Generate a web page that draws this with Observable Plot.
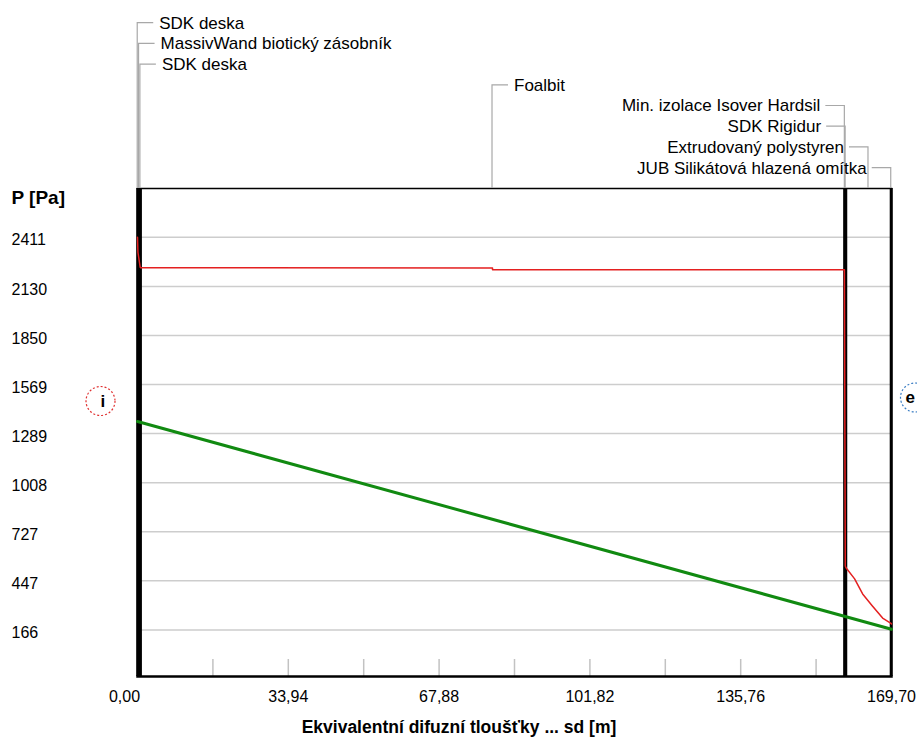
<!DOCTYPE html>
<html>
<head>
<meta charset="utf-8">
<script src="https://cdn.jsdelivr.net/npm/d3@7"></script>
<script src="https://cdn.jsdelivr.net/npm/@observablehq/plot@0.6"></script>
<style>
  html, body { margin: 0; padding: 0; background: #fff; }
  #chart svg { display: block; }
</style>
</head>
<body>
<div id="chart"></div>
<script>
// Wall layers from interior to exterior, with their equivalent diffusion thickness sd [m]
const layerNames = [
  "SDK deska",
  "MassivWand biotický zásobník",
  "SDK deska",
  "Foalbit",
  "Min. izolace Isover Hardsil",
  "SDK Rigidur",
  "Extrudovaný polystyren",
  "JUB Silikátová hlazená omítka"
];
const layerSd = [0.1, 0.5, 0.1, 158.4, 0.2, 0.16, 10.12, 0.12];

// Saturated water vapour pressure p_sat along the cumulative sd [m]
const psatSd = [0, 0.1, 0.6, 0.7, 79.9, 79.9, 159.1, 159.3, 159.46, 161.4, 163.2, 165.4, 167.7, 169.58, 169.7];
const psatPa = [2411, 2325, 2240, 2237, 2236, 2226, 2226, 532, 522, 458, 372, 303, 234, 204, 200];

// Partial water vapour pressure p along the cumulative sd [m]
const pSd = [0, 169.7];
const pPa = [1358, 170];

// Axis ticks
const yTicks = [166, 447, 727, 1008, 1289, 1569, 1850, 2130, 2411];
const xLabelTicks = [0, 33.94, 67.88, 101.82, 135.76, 169.70];
const xMinorTicks = [16.97, 33.94, 50.91, 67.88, 84.85, 101.82, 118.79, 135.76, 152.73];

const xTitle = "Ekvivalentní difuzní tloušťky ... sd [m]";
const yTitle = "P [Pa]";

// cumulative layer boundaries and centres
const boundaries = [0];
layerSd.forEach(v => boundaries.push(+(boundaries[boundaries.length - 1] + v).toFixed(4)));
const layers = layerNames.map((name, i) => ({
  name,
  row: i,
  center: (boundaries[i] + boundaries[i + 1]) / 2
}));

const psat = psatSd.map((s, i) => ({sd: s, p: psatPa[i]}));
const pv = pSd.map((s, i) => ({sd: s, p: pPa[i]}));

const font = "'Liberation Sans', Arial, sans-serif";
const fmtSd = d => d.toFixed(2).replace(".", ",");

const M = {top: 188, right: 26, bottom: 66, left: 137};
const W = 917, H = 742;
const frameH = H - M.top - M.bottom;
const frameCx = M.left + (W - M.left - M.right) / 2;

const plot = Plot.plot({
  width: W,
  height: H,
  marginTop: M.top,
  marginRight: M.right,
  marginBottom: M.bottom,
  marginLeft: M.left,
  style: {fontFamily: font, fontSize: "16px", color: "#000", background: "#fff"},
  x: {domain: [0, 169.7]},
  y: {domain: [-100, 2690]},
  marks: [
    // horizontal grid
    Plot.ruleY(yTicks, {stroke: "#cdcdcd", strokeWidth: 1.5}),
    // short ticks along the bottom edge
    Plot.ruleX(xMinorTicks, {stroke: "#c2c2c2", strokeWidth: 1.5, insetTop: frameH - 17}),
    // frame top and bottom
    Plot.frame({anchor: "top", stroke: "#000", strokeWidth: 1.5}),
    Plot.frame({anchor: "bottom", stroke: "#000", strokeWidth: 2.5}),
    // layer boundaries
    Plot.ruleX(boundaries, {stroke: "#000", strokeWidth: 2.5}),
    // y axis values, left aligned in the margin
    Plot.axisY(yTicks, {
      tickSize: 0, tickPadding: 0, textAnchor: "start", dx: -126, dy: 3,
      tickFormat: d => String(d), label: null, fontSize: 16
    }),
    Plot.text([yTitle], {
      frameAnchor: "top-left", textAnchor: "start", dx: -126, dy: 2,
      fontWeight: "bold", fontSize: 19
    }),
    // x axis values
    Plot.axisX(xLabelTicks.slice(1), {
      tickSize: 0, tickPadding: 14, tickFormat: fmtSd, label: null, fontSize: 16
    }),
    Plot.axisX(xLabelTicks.slice(0, 1), {
      tickSize: 0, tickPadding: 14, tickFormat: fmtSd, label: null, fontSize: 16, dx: -13
    }),
    // axis title, centred on the whole graphic
    Plot.text([xTitle], {
      frameAnchor: "bottom", dx: W / 2 - frameCx, dy: 56, fontWeight: "bold", fontSize: 17.5
    }),
    // interior / exterior markers
    Plot.dot([0], {frameAnchor: "left", dx: -37, dy: -31.5, r: 14.5, stroke: "#e03030", strokeDasharray: "2,2", strokeWidth: 1.2, fill: "none"}),
    Plot.text(["i"], {frameAnchor: "left", dx: -37, dy: -31, fontWeight: "bold", fontSize: 17}),
    Plot.dot([0], {frameAnchor: "right", dx: 23.5, dy: -35, r: 14.5, stroke: "#3d7fc4", strokeDasharray: "2,2", strokeWidth: 1.2, fill: "none"}),
    Plot.text(["e"], {frameAnchor: "right", dx: 23.5, dy: -35, fontWeight: "bold", fontSize: 17}),
    // partial vapour pressure
    Plot.line(pv, {x: "sd", y: "p", stroke: "#118a11", strokeWidth: 3}),
    // saturated vapour pressure
    Plot.line(psat, {x: "sd", y: "p", stroke: "#e42020", strokeWidth: 1.5})
  ]
});

// layer name callouts above the frame, tied to each layer's centre
const x = plot.scale("x");
const rowTop = 22.7, rowStep = 20.7;
const g = d3.select(plot).append("g")
  .attr("font-family", font)
  .attr("font-size", 17)
  .attr("fill", "#000");
layers.forEach(L => {
  const cx = x.apply(L.center);
  const ry = rowTop + L.row * rowStep;
  const toRight = L.row < 4;
  g.append("path")
    .attr("d", toRight ? `M${cx},${M.top}V${ry}h16` : `M${cx},${M.top}V${ry}h-19`)
    .attr("fill", "none")
    .attr("stroke", "#a8a8a8")
    .attr("stroke-width", 1.2);
  g.append("text")
    .attr("x", toRight ? cx + 22 : cx - 24)
    .attr("y", ry)
    .attr("dy", "0.35em")
    .attr("text-anchor", toRight ? "start" : "end")
    .text(L.name);
});

document.getElementById("chart").appendChild(plot);
</script>
</body>
</html>
